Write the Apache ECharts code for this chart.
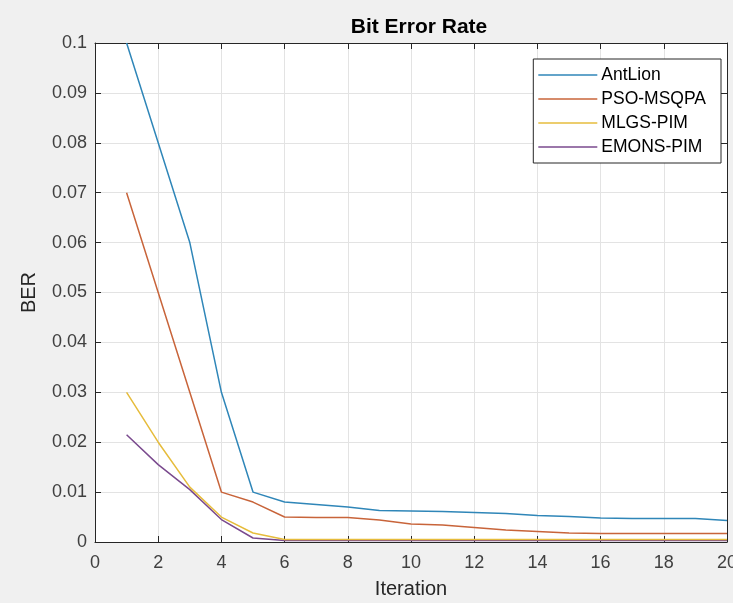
<!DOCTYPE html>
<html><head><meta charset="utf-8">
<script src="https://cdn.jsdelivr.net/npm/echarts@6/dist/echarts.min.js"></script>
<style>html,body{margin:0;padding:0;background:#f0f0f0}#c{width:733px;height:603px}</style>
</head><body><div id="c"></div>
<script>
const iterations = [1,2,3,4,5,6,7,8,9,10,11,12,13,14,15,16,17,18,19,20];
const antLion   = [0.1,0.08,0.06,0.03,0.01,0.008,0.0075,0.007,0.0063,0.0062,0.0061,0.0059,0.0057,0.0053,0.0051,0.0048,0.0047,0.0047,0.0047,0.0043];
const psoMsqpa  = [0.07,0.05,0.03,0.01,0.008,0.005,0.0049,0.0049,0.0044,0.0036,0.0034,0.0029,0.0024,0.0021,0.0018,0.0017,0.0017,0.0017,0.0017,0.0017];
const mlgsPim   = [0.03,0.02,0.011,0.005,0.0018,0.0005,0.0005,0.0005,0.0005,0.0005,0.0005,0.0005,0.0005,0.0005,0.0005,0.0005,0.0005,0.0005,0.0005,0.0005];
const emonsPim  = [0.0215,0.0155,0.0105,0.0045,0.0008,0.0003,0.0003,0.0003,0.0003,0.0003,0.0003,0.0003,0.0003,0.0003,0.0003,0.0003,0.0003,0.0003,0.0003,0.0003];
const seriesNames = ['AntLion','PSO-MSQPA','MLGS-PIM','EMONS-PIM'];
const seriesData = [antLion, psoMsqpa, mlgsPim, emonsPim];
const colors = ['#2f86b8','#c8643a','#e6bc3c','#7a4a8e'];
const font = 'Liberation Sans, Arial, Helvetica, sans-serif';

const chart = echarts.init(document.getElementById('c'));
function axisCommon(){ return {
  axisLine:{show:true,onZero:false,lineStyle:{color:'#262626',width:1}},
  axisTick:{show:true,inside:true,length:6,lineStyle:{color:'#262626'}},
};}
chart.setOption({
  backgroundColor:'#f0f0f0',
  animation:false,
  color: colors,
  title:{text:'Bit Error Rate',left:414,textAlign:'center',top:12,
    textStyle:{fontFamily:font,fontSize:21,fontWeight:'bold',color:'#000'}},
  grid:{left:95,top:43,right:6,bottom:61,show:true,backgroundColor:'#fff',borderWidth:0,
    containLabel:false, outerBoundsMode:'none'},
  legend:{
    orient:'vertical', right:12, top:59,
    data: seriesNames,
    icon:'rect', itemWidth:59, itemHeight:1.5, itemGap:6,
    backgroundColor:'#fff', borderColor:'#262626', borderWidth:1,
    padding:[7,15,7,5],
    textStyle:{fontFamily:font,fontSize:17.5,color:'#000',padding:[0,0,0,-1]}
  },
  xAxis:[
    Object.assign({type:'value',min:0,max:20,interval:2,position:'bottom',
      name:'Iteration',nameLocation:'middle',nameGap:37,
      nameTextStyle:{fontFamily:font,fontSize:20,color:'#262626'},
      axisLabel:{fontFamily:font,fontSize:18,color:'#404040',margin:12},
      splitLine:{show:true,lineStyle:{color:'#e3e3e3'}}}, axisCommon()),
    Object.assign({type:'value',min:0,max:20,interval:2,position:'top',
      axisLabel:{show:false},splitLine:{show:false}}, axisCommon())
  ],
  yAxis:[
    Object.assign({type:'value',min:0,max:0.1,interval:0.01,position:'left',
      name:'BER',nameLocation:'middle',nameGap:56,
      nameTextStyle:{fontFamily:font,fontSize:20,color:'#262626'},
      axisLabel:{fontFamily:font,fontSize:18,color:'#404040',margin:8,
        formatter:v=>String(Math.round(v*100)/100)},
      splitLine:{show:true,lineStyle:{color:'#e3e3e3'}}}, axisCommon()),
    Object.assign({type:'value',min:0,max:0.1,interval:0.01,position:'right',
      axisLabel:{show:false},splitLine:{show:false}}, axisCommon())
  ],
  series: seriesNames.map((n,i)=>({
    name:n, type:'line', symbol:'none', xAxisIndex:0, yAxisIndex:0,
    data: iterations.map((x,j)=>[x, seriesData[i][j]]),
    lineStyle:{width:1.5,color:colors[i]}, itemStyle:{color:colors[i]},
    z: 10-i
  }))
});
</script></body></html>
